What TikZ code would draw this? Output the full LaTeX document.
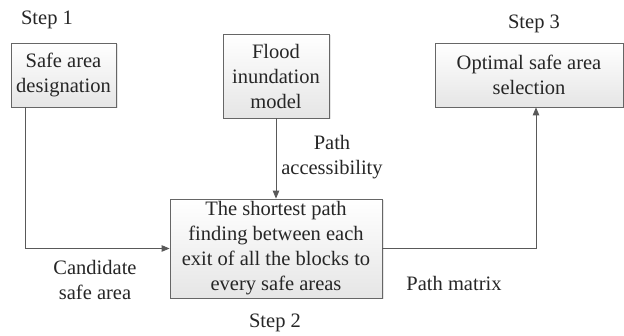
\documentclass[tikz,border=0pt]{standalone}
\usepackage{fontspec}
\setmainfont{Liberation Serif}
\usetikzlibrary{arrows.meta,shadows,calc}
\begin{document}
\begin{tikzpicture}[x=1pt,y=-1pt,
  box/.style={draw=black!60, line width=0.8pt, top color=white, bottom color=black!10,
    drop shadow={opacity=0.2,shadow xshift=1.5pt,shadow yshift=-1.5pt},
    align=center, inner sep=0pt, font=\fontsize{20.5}{25}\selectfont, text=black!85},
  lbl/.style={inner sep=0pt, align=center, font=\fontsize{20.5}{25}\selectfont, text=black!85},
  conn/.style={draw=black!65, line width=0.9pt, -{Triangle[length=8pt,width=6.5pt]}}]
\useasboundingbox (0,0) rectangle (624,336);
\node[box, minimum width=105pt, minimum height=64pt] (safe) at (63.5,75) {Safe area\\designation};
\node[box, minimum width=106pt, minimum height=84pt] (flood) at (276,76) {Flood\\inundation\\model};
\node[box, minimum width=188pt, minimum height=64pt] (opt) at (529,75) {Optimal safe area\\selection};
\node[box, minimum width=212pt, minimum height=99pt] (main) at (276,248.5) {The shortest path\\finding between each\\exit of all the blocks to\\every safe areas};
\node[lbl] (s1) at (47,20) {Step 1};
\node[lbl] (s3) at (534,24) {Step 3};
\node[lbl] (s2) at (275,323) {Step 2};
\node[lbl] (pa) at (332,157.5) {Path\\accessibility};
\node[lbl] (cs) at (95,279.5) {Candidate\\safe area};
\node[lbl] (pm) at (454,283) {Path matrix};
\coordinate (safeout) at ($(safe.south west)+(15,0)$);
\coordinate (optin) at ($(opt.south)+(7,0)$);
\draw[conn] (safeout) |- (main.west);
\draw[conn] (flood.south) -- (flood.south |- main.north);
\draw[conn] (main.east) -| (optin);
\end{tikzpicture}
\end{document}
